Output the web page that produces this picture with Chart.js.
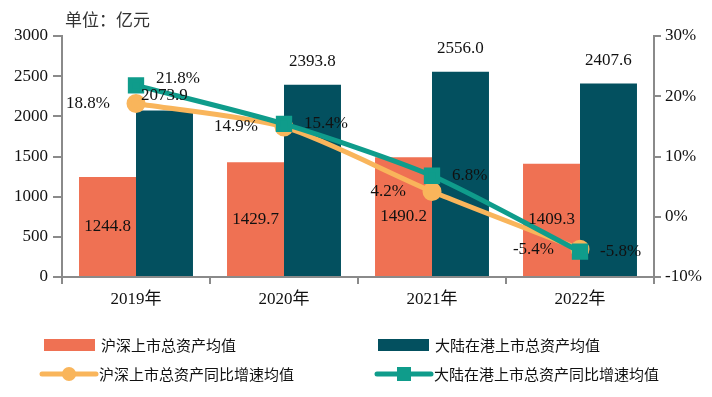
<!DOCTYPE html>
<html>
<head>
<meta charset="utf-8">
<script src="https://cdn.jsdelivr.net/npm/chart.js@4.4.0/dist/chart.umd.min.js"></script>
<style>
  body { margin: 0; background: #fff; }
  #wrap { width: 712px; height: 397px; }
</style>
</head>
<body>
<div id="wrap"><canvas id="assetChart" width="712" height="397"></canvas></div>
<script>
const years = ["2019年", "2020年", "2021年", "2022年"];
const shszAssets = [1244.8, 1429.7, 1490.2, 1409.3];
const hkAssets = [2073.9, 2393.8, 2556.0, 2407.6];
const shszGrowth = [18.8, 14.9, 4.2, -5.4];
const hkGrowth = [21.8, 15.4, 6.8, -5.8];
const leftTicks = { min: 0, max: 3000, step: 500 };
const rightTicks = { min: -10, max: 30, step: 10 };

const serif = "'Liberation Serif', 'Times New Roman', 'Noto Sans CJK SC', serif";
const cjk = "'Noto Sans CJK SC', sans-serif";
const axisGrey = "#8a8a8a";

// draws the value labels next to each mark
const valueLabels = {
  id: "valueLabels",
  afterDatasetsDraw(chart) {
    const ctx = chart.ctx;
    ctx.save();
    ctx.font = "17px " + serif;
    ctx.fillStyle = "#111";
    ctx.textBaseline = "middle";
    chart.data.datasets.forEach((ds, i) => {
      const meta = chart.getDatasetMeta(i);
      meta.data.forEach((el, j) => {
        const v = ds.data[j];
        let txt = ds.type === "line" ? v.toFixed(1) + "%" : v.toFixed(1);
        let x = el.x, y = el.y;
        if (ds.labelPos === "center") {
          ctx.textAlign = "center";
          y = (el.y + el.base) / 2;
        } else if (ds.labelPos === "top") {
          ctx.textAlign = "center";
          y = el.y - (j === 0 ? 15 : 23); // first one sits lower, under the lines
        } else if (ds.labelPos === "left") {
          ctx.textAlign = "right";
          x = el.x - 26;
        } else {
          ctx.textAlign = "left";
          x = el.x + 20;
          if (j === 0) y -= 7;
        }
        ctx.fillText(txt, x, y);
      });
    });
    ctx.restore();
  },
};

// unit note and the two-column legend underneath
const extras = {
  id: "extras",
  afterDraw(chart) {
    const ctx = chart.ctx;
    ctx.save();
    ctx.fillStyle = "#333";
    ctx.font = "17px " + cjk;
    ctx.textBaseline = "middle";
    ctx.textAlign = "left";
    ctx.fillText("单位：亿元", 65, 20);

    const spots = [
      [44, 345],
      [378, 345],
      [42, 374],
      [377, 374],
    ];
    chart.data.datasets.forEach((ds, i) => {
      const [x, y] = spots[i];
      if (ds.type === "line") {
        ctx.strokeStyle = ds.borderColor;
        ctx.lineWidth = 5;
        ctx.lineCap = "round";
        ctx.beginPath();
        ctx.moveTo(x, y);
        ctx.lineTo(x + 54, y);
        ctx.stroke();
        ctx.fillStyle = ds.borderColor;
        if (ds.pointStyle === "rect") {
          ctx.fillRect(x + 20, y - 7, 14, 14);
        } else {
          ctx.beginPath();
          ctx.arc(x + 27, y, 7, 0, Math.PI * 2);
          ctx.fill();
        }
      } else {
        ctx.fillStyle = ds.backgroundColor;
        ctx.fillRect(x, y - 6, 51, 12);
      }
      ctx.fillStyle = "#111";
      ctx.font = "15px " + cjk;
      ctx.fillText(ds.label, x + 57, y);
    });
    ctx.restore();
  },
};

const gridStyle = {
  drawOnChartArea: false,
  drawTicks: true,
  tickLength: 7,
  color: axisGrey,
  lineWidth: 2,
};

new Chart(document.getElementById("assetChart"), {
  type: "bar",
  data: {
    labels: years,
    datasets: [
      {
        label: "沪深上市总资产均值",
        data: shszAssets,
        backgroundColor: "#ef7153",
        yAxisID: "y",
        order: 2,
        labelPos: "center",
      },
      {
        label: "大陆在港上市总资产均值",
        data: hkAssets,
        backgroundColor: "#03505f",
        yAxisID: "y",
        order: 2,
        labelPos: "top",
      },
      {
        type: "line",
        label: "沪深上市总资产同比增速均值",
        data: shszGrowth,
        borderColor: "#f9b55b",
        backgroundColor: "#f9b55b",
        borderWidth: 5,
        pointStyle: "circle",
        pointRadius: 7,
        tension: 0.25,
        yAxisID: "y1",
        order: 1,
        labelPos: "left",
      },
      {
        type: "line",
        label: "大陆在港上市总资产同比增速均值",
        data: hkGrowth,
        borderColor: "#0f9c8b",
        backgroundColor: "#0f9c8b",
        borderWidth: 5,
        pointStyle: "rect",
        pointRadius: 8,
        tension: 0.25,
        yAxisID: "y1",
        order: 0,
        labelPos: "right",
      },
    ],
  },
  options: {
    responsive: false,
    animation: false,
    layout: { padding: { top: 36, bottom: 90, left: 0, right: 0 } },
    datasets: {
      bar: { categoryPercentage: 0.77, barPercentage: 1 },
    },
    scales: {
      x: {
        grid: { ...gridStyle, offset: true },
        border: { color: axisGrey, width: 2 },
        ticks: { color: "#111", font: { family: serif, size: 17 }, padding: 5 },
        afterFit: (s) => { s.height = 30; },
      },
      y: {
        position: "left",
        min: leftTicks.min,
        max: leftTicks.max,
        ticks: {
          stepSize: leftTicks.step,
          color: "#111",
          font: { family: serif, size: 17 },
          padding: 5,
          callback: (v) => String(v),
        },
        grid: { ...gridStyle, tickLength: 9 },
        border: { color: axisGrey, width: 2 },
        afterFit: (s) => { s.width = 62; },
      },
      y1: {
        position: "right",
        min: rightTicks.min,
        max: rightTicks.max,
        ticks: {
          stepSize: rightTicks.step,
          color: "#111",
          font: { family: serif, size: 17 },
          padding: 4,
          callback: (v) => v + "%",
        },
        grid: gridStyle,
        border: { color: axisGrey, width: 2 },
        afterFit: (s) => { s.width = 58; },
      },
    },
    plugins: {
      legend: { display: false },
      tooltip: { enabled: false },
    },
  },
  plugins: [valueLabels, extras],
});
</script>
</body>
</html>
